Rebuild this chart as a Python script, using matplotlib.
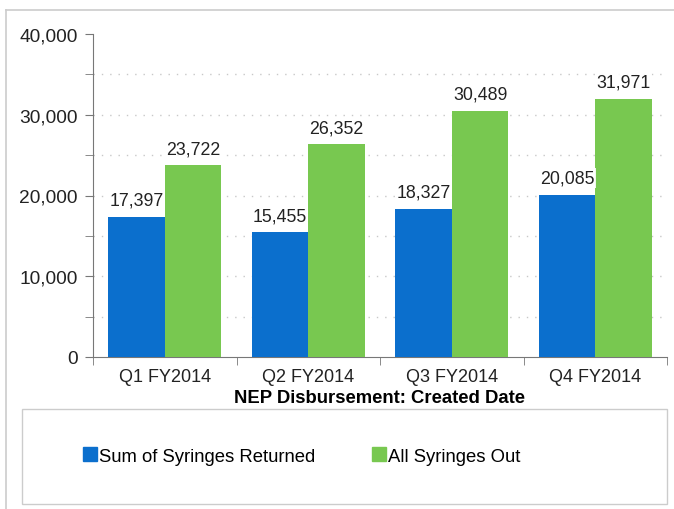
import matplotlib.pyplot as plt
import matplotlib.patches as mpatches
from matplotlib.lines import Line2D
import numpy as np

plt.rcParams['font.family'] = ['Liberation Sans', 'DejaVu Sans']

quarters = ["Q1 FY2014", "Q2 FY2014", "Q3 FY2014", "Q4 FY2014"]
returned = [17397, 15455, 18327, 20085]
syringes_out = [23722, 26352, 30489, 31971]
series_names = ["Sum of Syringes Returned", "All Syringes Out"]

blue = "#0b6fcd"
green = "#78c850"
W, H = 674, 510

fig = plt.figure(figsize=(W / 100, H / 100), dpi=100)
ax = fig.add_axes([93 / W, 1 - 358 / H, (667 - 93) / W, (358 - 35) / H])

x = np.arange(len(quarters))
width = 0.395
bars1 = ax.bar(x - width / 2, returned, width, color=blue, zorder=3)
bars2 = ax.bar(x + width / 2, syringes_out, width, color=green, zorder=3)

for bars in (bars1, bars2):
    for b in bars:
        ax.annotate(f"{int(b.get_height()):,}", (b.get_x() + b.get_width() / 2, b.get_height()),
                    xytext=(0, 12), textcoords="offset points", ha="center", va="center",
                    fontsize=12.8, color="#222222", zorder=5,
                    bbox=dict(boxstyle="square,pad=0.08", fc="white", ec="none", alpha=0.9))

ax.set_xlim(-0.5, len(quarters) - 0.5)
ax.set_ylim(0, 40000)

# dotted grid
for lvl in np.arange(5000, 40000, 5000):
    ax.axhline(lvl, color="#c8c8c8", linestyle=(0, (1, 5)), linewidth=1, zorder=1)

ax.set_yticks(np.arange(0, 40001, 10000))
ax.set_yticks(np.arange(0, 40001, 5000), minor=True)
ax.set_yticklabels([f"{v:,}" for v in range(0, 40001, 10000)], fontsize=13.8, color="#222222")
ax.tick_params(axis="y", which="both", length=6, color="#777777", direction="out", pad=5)

ax.set_xticks(x)
ax.set_xticklabels(quarters, fontsize=13, color="#222222")
ax.set_xticks(np.arange(-0.5, len(quarters)), minor=True)
ax.tick_params(axis="x", which="major", length=0, pad=8)
ax.tick_params(axis="x", which="minor", length=6, color="#777777")

for s in ("top", "right"):
    ax.spines[s].set_visible(False)
for s in ("left", "bottom"):
    ax.spines[s].set_color("#777777")

ax.set_xlabel("NEP Disbursement: Created Date", fontsize=13.3, fontweight="bold", labelpad=3)

# outer frame
fig.add_artist(Line2D([6 / W, 1], [1 - 11 / H, 1 - 11 / H], color="#cccccc", lw=1.2))
fig.add_artist(Line2D([6 / W, 6 / W], [0, 1 - 11 / H], color="#cccccc", lw=1.2))

# legend box
fig.add_artist(mpatches.Rectangle((22 / W, 1 - 505 / H), (667 - 22) / W, (505 - 410) / H,
                                  transform=fig.transFigure, fill=False, ec="#cccccc", lw=1))
handles = [mpatches.Patch(color=blue), mpatches.Patch(color=green)]
fig.legend(handles, series_names, loc="center left", bbox_to_anchor=(83 / W, 1 - 457 / H),
           ncol=2, frameon=False, fontsize=13.3, handlelength=0.76, handleheight=0.76,
           handletextpad=0.12, columnspacing=3.05, borderaxespad=0, borderpad=0)

fig.savefig("out.png", dpi=100)
